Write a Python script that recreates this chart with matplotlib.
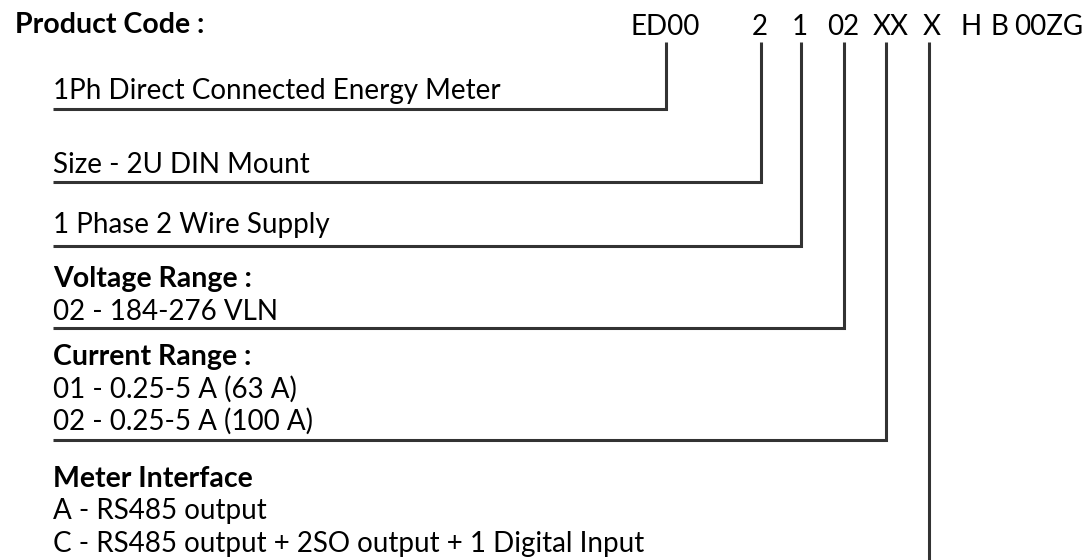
import matplotlib.pyplot as plt

# Product code segments
code_parts = ["ED00", "2", "1", "02", "XX", "X", "H", "B", "00ZG"]

# Description blocks: (bold heading or None, lines)
headings = [None, None, None, "Voltage Range :", "Current Range :", "Meter Interface"]
details = [
    ["1Ph Direct Connected Energy Meter"],
    ["Size - 2U DIN Mount"],
    ["1 Phase 2 Wire Supply"],
    ["02 - 184-276 VLN"],
    ["01 - 0.25-5 A (63 A)", "02 - 0.25-5 A (100 A)"],
    ["A - RS485 output", "C - RS485 output + 2SO output + 1 Digital Input"],
]

# layout (pixel coordinates)
code_x = [665, 760, 800, 843, 891, 932, 971, 999, 1049]
leader_x = [666, 761, 801, 844, 886, 929]
block_top = [99, 173, 233, 287, 365, 487]
elbow_y = [109, 182, 246, 328, 440, 575]
line_gap = 32.5
left = 53
line_top = 42

plt.rcParams['font.family'] = ['Lato', 'DejaVu Sans']
fig = plt.figure(figsize=(10.88, 5.60), dpi=100)
ax = fig.add_axes([0, 0, 1, 1])
ax.set_xlim(0, 1088)
ax.set_ylim(560, 0)
ax.axis('off')

fs = 20
fs_bold = 20.5
col = '#000000'
lc = '#333333'

ax.text(15, 33, "Product Code :", fontsize=fs_bold, fontweight='bold', color=col,
        va='baseline', ha='left')
for part, x in zip(code_parts, code_x):
    ax.text(x, 35, part, fontsize=fs, color=col, va='baseline', ha='center')

for i, (head, lines) in enumerate(zip(headings, details)):
    y = block_top[i]
    if head is not None:
        ax.text(left, y, head, fontsize=fs_bold, fontweight='bold', color=col,
                va='baseline', ha='left')
        y += line_gap
    for ln in lines:
        ax.text(left, y, ln, fontsize=fs, color=col, va='baseline', ha='left')
        y += line_gap
    ax.plot([left, leader_x[i], leader_x[i]], [elbow_y[i], elbow_y[i], line_top],
            color=lc, lw=2.2, solid_joinstyle='miter', solid_capstyle='butt')

fig.savefig('out.png', dpi=100)
